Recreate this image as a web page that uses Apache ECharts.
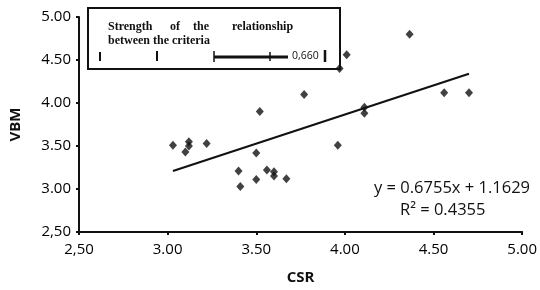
<!DOCTYPE html>
<html>
<head>
<meta charset="utf-8">
<script src="https://cdn.jsdelivr.net/npm/echarts@6/dist/echarts.min.js"></script>
<style>
  html, body { margin: 0; padding: 0; background: #fff; }
  #chart { width: 540px; height: 290px; }
</style>
</head>
<body>
<div id="chart"></div>
<script>
// values
const csr = [3.03, 3.12, 3.12, 3.10, 3.22, 3.40, 3.41, 3.50, 3.50, 3.52, 3.56, 3.60, 3.60, 3.67,
  3.77, 3.96, 3.97, 4.01, 4.11, 4.11, 4.365, 4.56, 4.70]
const vbm = [3.51, 3.55, 3.50, 3.43, 3.53, 3.21, 3.03, 3.42, 3.11, 3.90, 3.22, 3.20, 3.15, 3.12,
  4.10, 3.51, 4.40, 4.56, 3.95, 3.88, 4.80, 4.12, 4.12]
const trendX = [3.03, 4.70]
const trendY = [3.21, 4.34]
const xTickLabels = ['2,50', '3.00', '3.50', '4.00', '4.50', '5.00']
const yTickLabels = ['2,50', '3.00', '3.50', '4.00', '4.50', '5.00']
const equation = 'y = 0.6755x + 1.1629'
const rSquared = 'R² = 0.4355'

const tickFont = { fontFamily: 'Open Sans', fontSize: 15, color: '#000' }
const boxFont = { fontFamily: 'Liberation Serif', fontSize: 12, fontWeight: 'bold', fill: '#111' }

const chart = echarts.init(document.getElementById('chart'))
chart.setOption({
  animation: false,
  grid: { left: 77, right: 15, top: 17, bottom: 57 },
  xAxis: {
    type: 'value', min: 2.5, max: 5, interval: 0.5,
    name: 'CSR', nameLocation: 'middle', nameGap: 38,
    nameTextStyle: { fontFamily: 'Open Sans', fontSize: 15, fontWeight: 'bold', color: '#111' },
    axisLine: { lineStyle: { color: '#111', width: 2 } },
    axisTick: { show: true, length: 3, lineStyle: { color: '#111', width: 2 } },
    axisLabel: Object.assign({ margin: 10, formatter: (v) => xTickLabels[Math.round((v - 2.5) / 0.5)] }, tickFont),
    splitLine: { show: false }
  },
  yAxis: {
    type: 'value', min: 2.5, max: 5, interval: 0.5,
    name: 'VBM', nameLocation: 'middle', nameGap: 56,
    nameTextStyle: { fontFamily: 'Open Sans', fontSize: 15, fontWeight: 'bold', color: '#111' },
    axisLine: { show: true, lineStyle: { color: '#111', width: 2 } },
    axisTick: { show: true, length: 3, lineStyle: { color: '#111', width: 2 } },
    axisLabel: Object.assign({ margin: 8, formatter: (v) => yTickLabels[Math.round((v - 2.5) / 0.5)] }, tickFont),
    splitLine: { show: false }
  },
  series: [
    {
      type: 'line',
      data: trendX.map((x, i) => [x, trendY[i]]),
      showSymbol: false,
      lineStyle: { color: '#111', width: 2 },
      z: 2
    },
    {
      type: 'scatter',
      data: csr.map((x, i) => [x, vbm[i]]),
      symbol: 'diamond',
      symbolSize: [8, 9],
      itemStyle: { color: '#111' },
      z: 3
    }
  ],
  graphic: [
    // the "strength of the relationship" box
    { type: 'rect', shape: { x: 88, y: 8, width: 252, height: 61 }, style: { fill: '#fff', stroke: '#111', lineWidth: 2 }, z: 1 },
    { type: 'text', left: 108, top: 21, style: Object.assign({ text: 'Strength' }, boxFont), z: 2 },
    { type: 'text', left: 170, top: 21, style: Object.assign({ text: 'of' }, boxFont), z: 2 },
    { type: 'text', left: 193, top: 21, style: Object.assign({ text: 'the' }, boxFont), z: 2 },
    { type: 'text', left: 232, top: 21, style: Object.assign({ text: 'relationship' }, boxFont), z: 2 },
    { type: 'text', left: 108, top: 35, style: Object.assign({ text: 'between the criteria' }, boxFont), z: 2 },
    { type: 'line', shape: { x1: 100, y1: 52, x2: 100, y2: 61 }, style: { stroke: '#111', lineWidth: 2 }, z: 2 },
    { type: 'line', shape: { x1: 157, y1: 51, x2: 157, y2: 61 }, style: { stroke: '#111', lineWidth: 2 }, z: 2 },
    { type: 'line', shape: { x1: 214, y1: 51, x2: 214, y2: 62 }, style: { stroke: '#111', lineWidth: 1.5 }, z: 2 },
    { type: 'line', shape: { x1: 214, y1: 57, x2: 288, y2: 57 }, style: { stroke: '#111', lineWidth: 3 }, z: 2 },
    { type: 'line', shape: { x1: 270, y1: 52, x2: 270, y2: 61 }, style: { stroke: '#111', lineWidth: 1.5 }, z: 2 },
    { type: 'text', left: 292, top: 51, style: { text: '0,660', fontFamily: 'Open Sans', fontSize: 10.5, fill: '#111' }, z: 2 },
    { type: 'line', shape: { x1: 325, y1: 50, x2: 325, y2: 62 }, style: { stroke: '#111', lineWidth: 2.5 }, z: 2 },
    // trend line equation
    { type: 'text', right: 10, top: 180, style: { text: equation, fontFamily: 'Open Sans', fontSize: 16.5, fill: '#111', textAlign: 'right' }, z: 4 },
    { type: 'text', left: 400, top: 202, style: { text: rSquared, fontFamily: 'Open Sans', fontSize: 16.5, fill: '#111' }, z: 4 }
  ]
})
</script>
</body>
</html>
